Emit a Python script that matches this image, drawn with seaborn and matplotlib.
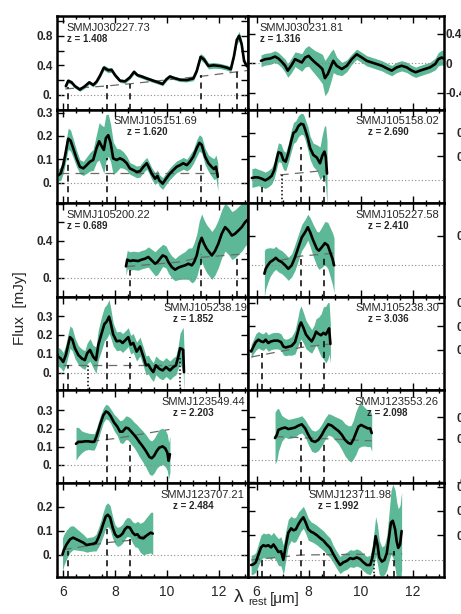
import matplotlib
matplotlib.use("Agg")
import matplotlib.pyplot as plt
import seaborn as sns
import pandas as pd
from matplotlib.ticker import MultipleLocator

sns.set_style("ticks")
plt.rcParams["font.family"] = ["Liberation Sans", "DejaVu Sans"]

# ---------------- data (rest wavelength [um], flux [mJy], 1-sigma) ----------------
names = ["SMMJ030227.73", "SMMJ030231.81", "SMMJ105151.69", "SMMJ105158.02",
         "SMMJ105200.22", "SMMJ105227.58", "SMMJ105238.19", "SMMJ105238.30",
         "SMMJ123549.44", "SMMJ123553.26", "SMMJ123707.21", "SMMJ123711.98"]
redshifts = ["1.408", "1.316", "1.620", "2.690", "0.689", "2.410",
             "1.852", "3.036", "2.203", "2.098", "2.484", "1.992"]

wl_030227 = [6.12, 6.21, 6.34, 6.47, 6.66, 6.85, 7.02, 7.17, 7.30, 7.43, 7.58, 7.75, 7.88, 8.01, 8.20,
             8.39, 8.58, 8.74, 8.87, 9.03, 9.23, 9.48, 9.67, 9.84, 9.99, 10.12, 10.25, 10.51, 10.77,
             11.02, 11.15, 11.30, 11.43, 11.60, 11.79, 12.05, 12.30, 12.46, 12.58, 12.69, 12.78,
             12.88, 12.97, 13.07]
fx_030227 = [0.116, 0.19, 0.169, 0.116, 0.071, 0.116, 0.169, 0.133, 0.178, 0.258, 0.369, 0.333, 0.338,
             0.267, 0.191, 0.182, 0.236, 0.311, 0.267, 0.249, 0.222, 0.191, 0.169, 0.147, 0.213, 0.249,
             0.231, 0.204, 0.2, 0.222, 0.324, 0.516, 0.48, 0.391, 0.4, 0.391, 0.369, 0.347, 0.524,
             0.747, 0.8, 0.68, 0.458, 0.391]
er_030227 = [0.03, 0.03, 0.025, 0.025, 0.025, 0.025, 0.025, 0.025, 0.025, 0.03, 0.035, 0.035, 0.03,
             0.03, 0.025, 0.025, 0.025, 0.03, 0.025, 0.025, 0.025, 0.025, 0.025, 0.025, 0.025, 0.025,
             0.025, 0.025, 0.025, 0.03, 0.035, 0.045, 0.045, 0.04, 0.04, 0.035, 0.035, 0.035, 0.045,
             0.06, 0.06, 0.055, 0.04, 0.04]

wl_030231 = [6.17, 6.33, 6.52, 6.71, 6.84, 6.97, 7.10, 7.20, 7.33, 7.48, 7.61, 7.74, 7.87, 8.00, 8.12,
             8.25, 8.40, 8.53, 8.63, 8.74, 8.87, 8.95, 9.08, 9.28, 9.47, 9.66, 9.85, 10.05, 10.24,
             10.43, 10.62, 10.82, 11.01, 11.20, 11.39, 11.58, 11.78, 11.97, 12.12, 12.29, 12.48,
             12.67, 12.87, 12.99, 13.12, 13.21]
fx_030231 = [0.031, 0.053, 0.062, 0.089, 0.062, 0.018, -0.036, -0.102, -0.036, 0.053, 0.031, 0.009,
             0.076, 0.098, 0.053, 0.009, -0.036, -0.08, -0.204, -0.147, -0.036, 0.031, -0.036, -0.08,
             -0.036, 0.053, 0.12, 0.076, 0.031, 0.009, -0.013, -0.036, -0.071, -0.102, -0.058, -0.036,
             -0.058, -0.102, -0.124, -0.102, -0.08, -0.058, -0.013, 0.053, 0.076, 0.062]
er_030231 = [0.08, 0.08, 0.08, 0.08, 0.08, 0.08, 0.09, 0.09, 0.1, 0.1, 0.11, 0.12, 0.13, 0.14, 0.15,
             0.16, 0.18, 0.2, 0.24, 0.24, 0.2, 0.16, 0.12, 0.09, 0.08, 0.07, 0.07, 0.07, 0.07, 0.07,
             0.07, 0.07, 0.07, 0.07, 0.07, 0.07, 0.07, 0.07, 0.07, 0.07, 0.07, 0.07, 0.08, 0.09,
             0.1, 0.1]

wl_105151 = [5.83, 5.92, 6.02, 6.12, 6.21, 6.30, 6.40, 6.53, 6.66, 6.79, 6.92, 7.05, 7.17, 7.30, 7.40,
             7.50, 7.58, 7.66, 7.75, 7.84, 7.94, 8.07, 8.20, 8.33, 8.46, 8.58, 8.71, 8.84, 8.97, 9.10,
             9.23, 9.33, 9.42, 9.55, 9.64, 9.71, 9.84, 9.97, 10.12, 10.25, 10.38, 10.51, 10.63,
             10.77, 10.89, 11.02, 11.15, 11.25, 11.34, 11.47, 11.60, 11.72, 11.81, 11.89, 11.96]
fx_105151 = [0.032, 0.039, 0.075, 0.133, 0.188, 0.18, 0.148, 0.104, 0.068, 0.061, 0.075, 0.09, 0.097,
             0.148, 0.177, 0.155, 0.14, 0.191, 0.203, 0.17, 0.104, 0.097, 0.104, 0.097, 0.083, 0.061,
             0.054, 0.046, 0.049, 0.068, 0.083, 0.061, 0.039, 0.017, 0.029, 0.01, -0.004, 0.017,
             0.039, 0.054, 0.068, 0.075, 0.083, 0.075, 0.09, 0.112, 0.148, 0.17, 0.162, 0.112, 0.083,
             0.068, 0.058, 0.068, 0.025]
er_105151 = [0.025, 0.03, 0.035, 0.04, 0.045, 0.045, 0.04, 0.035, 0.03, 0.03, 0.035, 0.04, 0.045, 0.06,
             0.08, 0.09, 0.1, 0.1, 0.09, 0.08, 0.07, 0.05, 0.04, 0.035, 0.03, 0.025, 0.025, 0.025,
             0.025, 0.025, 0.025, 0.025, 0.025, 0.025, 0.025, 0.025, 0.025, 0.025, 0.025, 0.025,
             0.025, 0.025, 0.025, 0.025, 0.03, 0.03, 0.035, 0.035, 0.035, 0.035, 0.035, 0.04, 0.045,
             0.05, 0.06]

wl_105158 = [5.82, 5.94, 6.07, 6.20, 6.33, 6.45, 6.58, 6.68, 6.78, 6.84, 6.94, 7.03, 7.12, 7.22, 7.33,
             7.42, 7.51, 7.61, 7.71, 7.80, 7.87, 7.97, 8.06, 8.18, 8.32, 8.44, 8.53, 8.61, 8.66, 8.71]
fx_105158 = [0.007, 0.01, 0.009, 0.004, -0.003, 0.004, 0.016, 0.041, 0.091, 0.117, 0.113, 0.084, 0.077,
             0.113, 0.164, 0.2, 0.207, 0.229, 0.239, 0.236, 0.214, 0.178, 0.135, 0.106, 0.094, 0.07,
             0.103, 0.12, 0.099, 0.026]
er_105158 = [0.04, 0.04, 0.035, 0.035, 0.035, 0.035, 0.035, 0.035, 0.04, 0.04, 0.04, 0.04, 0.04, 0.04,
             0.045, 0.045, 0.045, 0.045, 0.045, 0.045, 0.045, 0.05, 0.05, 0.05, 0.055, 0.07, 0.09,
             0.11, 0.13, 0.14]

wl_105200 = [8.43, 8.48, 8.58, 8.71, 8.90, 9.03, 9.16, 9.29, 9.42, 9.55, 9.64, 9.74, 9.84, 9.97, 10.06,
             10.19, 10.32, 10.44, 10.57, 10.70, 10.83, 10.96, 11.05, 11.15, 11.25, 11.34, 11.43,
             11.53, 11.63, 11.73, 11.85, 11.98, 12.11, 12.24, 12.37, 12.50, 12.62, 12.75, 12.88,
             13.01, 13.10]
fx_105200 = [0.122, 0.195, 0.18, 0.187, 0.18, 0.195, 0.205, 0.224, 0.187, 0.151, 0.169, 0.205, 0.241,
             0.224, 0.169, 0.115, 0.086, 0.108, 0.122, 0.133, 0.151, 0.133, 0.169, 0.241, 0.368,
             0.432, 0.368, 0.314, 0.278, 0.241, 0.288, 0.368, 0.476, 0.548, 0.511, 0.457, 0.476,
             0.511, 0.548, 0.602, 0.627]
er_105200 = [0.1, 0.1, 0.1, 0.1, 0.1, 0.1, 0.1, 0.11, 0.12, 0.13, 0.14, 0.13, 0.12, 0.12, 0.12, 0.12,
             0.12, 0.13, 0.14, 0.15, 0.17, 0.19, 0.21, 0.23, 0.25, 0.26, 0.26, 0.26, 0.26, 0.26, 0.26,
             0.26, 0.26, 0.26, 0.26, 0.26, 0.26, 0.26, 0.26, 0.26, 0.26]

wl_105227 = [6.30, 6.35, 6.43, 6.52, 6.65, 6.74, 6.84, 6.97, 7.10, 7.22, 7.35, 7.48, 7.61, 7.74, 7.87,
             7.97, 8.06, 8.18, 8.32, 8.40, 8.51, 8.63, 8.74, 8.83, 8.92, 8.98]
fx_105227 = [-0.031, -0.014, -0.002, 0.009, 0.017, 0.024, 0.015, 0.009, -0.002, -0.014, -0.002, 0.026,
             0.061, 0.095, 0.113, 0.13, 0.113, 0.084, 0.055, 0.049, 0.061, 0.075, 0.067, 0.044,
             0.021, -0.002]
er_105227 = [0.08, 0.07, 0.06, 0.05, 0.04, 0.04, 0.04, 0.04, 0.04, 0.04, 0.04, 0.045, 0.045, 0.045,
             0.045, 0.045, 0.05, 0.055, 0.06, 0.065, 0.07, 0.075, 0.08, 0.085, 0.09, 0.095]

wl_105238a = [5.83, 5.92, 6.02, 6.12, 6.21, 6.28, 6.37, 6.47, 6.60, 6.73, 6.85, 6.94, 7.05, 7.17, 7.28,
              7.37, 7.50, 7.60, 7.69, 7.78, 7.84, 7.94, 8.07, 8.20, 8.30, 8.43, 8.52, 8.61, 8.71,
              8.84, 8.97, 9.10, 9.20, 9.29, 9.38, 9.48, 9.58, 9.71, 9.84, 9.97, 10.12, 10.25, 10.35,
              10.44, 10.51, 10.57, 10.63, 10.66]
fx_105238a = [0.084, 0.075, 0.056, 0.093, 0.148, 0.188, 0.175, 0.129, 0.093, 0.075, 0.066, 0.102, 0.12,
              0.084, 0.066, 0.148, 0.211, 0.257, 0.271, 0.297, 0.266, 0.202, 0.166, 0.169, 0.157,
              0.175, 0.188, 0.148, 0.157, 0.111, 0.138, 0.084, 0.038, 0.042, 0.02, 0.002, 0.038,
              0.02, 0.011, 0.029, 0.011, 0.029, 0.038, 0.084, 0.129, 0.126, 0.12, 0.002]
er_105238a = [0.05, 0.05, 0.05, 0.055, 0.06, 0.06, 0.06, 0.055, 0.05, 0.05, 0.05, 0.055, 0.06, 0.06,
              0.07, 0.08, 0.09, 0.09, 0.09, 0.09, 0.08, 0.06, 0.05, 0.05, 0.05, 0.05, 0.05, 0.05,
              0.05, 0.05, 0.05, 0.05, 0.05, 0.05, 0.05, 0.05, 0.05, 0.05, 0.05, 0.05, 0.05, 0.05,
              0.05, 0.06, 0.08, 0.1, 0.12, 0.13]

wl_105238b = [5.79, 5.88, 5.97, 6.07, 6.17, 6.26, 6.35, 6.45, 6.56, 6.68, 6.82, 6.94, 7.03, 7.12, 7.22,
              7.35, 7.48, 7.58, 7.65, 7.71, 7.80, 7.90, 8.02, 8.12, 8.21, 8.29, 8.38, 8.48, 8.57,
              8.66, 8.74, 8.79, 8.84]
fx_105238b = [0.093, 0.114, 0.133, 0.143, 0.136, 0.133, 0.143, 0.129, 0.136, 0.139, 0.139, 0.133,
              0.114, 0.11, 0.113, 0.117, 0.133, 0.172, 0.201, 0.216, 0.194, 0.165, 0.148, 0.136,
              0.154, 0.177, 0.168, 0.162, 0.172, 0.165, 0.18, 0.191, 0.125]
er_105238b = [0.03, 0.03, 0.035, 0.035, 0.035, 0.035, 0.035, 0.035, 0.035, 0.035, 0.035, 0.035, 0.035,
              0.035, 0.035, 0.04, 0.05, 0.06, 0.07, 0.07, 0.065, 0.06, 0.055, 0.05, 0.05, 0.055,
              0.07, 0.09, 0.11, 0.12, 0.12, 0.11, 0.08]

wl_123549 = [6.51, 6.60, 6.73, 6.85, 6.98, 7.11, 7.21, 7.30, 7.43, 7.56, 7.66, 7.75, 7.84, 7.97, 8.10,
             8.20, 8.30, 8.43, 8.52, 8.61, 8.74, 8.84, 8.94, 9.07, 9.20, 9.33, 9.42, 9.51, 9.61, 9.71,
             9.84, 9.94, 10.02, 10.07, 10.12]
fx_123549 = [0.116, 0.127, 0.127, 0.13, 0.13, 0.127, 0.127, 0.157, 0.219, 0.273, 0.294, 0.287, 0.269,
             0.234, 0.21, 0.183, 0.183, 0.205, 0.201, 0.187, 0.166, 0.148, 0.127, 0.103, 0.076, 0.044,
             0.037, 0.05, 0.076, 0.095, 0.102, 0.091, 0.068, 0.023, 0.059]
er_123549 = [0.09, 0.08, 0.06, 0.05, 0.045, 0.045, 0.045, 0.045, 0.045, 0.04, 0.04, 0.04, 0.04, 0.045,
             0.05, 0.06, 0.065, 0.065, 0.065, 0.07, 0.07, 0.075, 0.08, 0.085, 0.09, 0.095, 0.095,
             0.095, 0.095, 0.1, 0.1, 0.1, 0.1, 0.1, 0.1]

wl_123553 = [6.71, 6.78, 6.84, 6.97, 7.10, 7.22, 7.35, 7.48, 7.61, 7.74, 7.87, 7.99, 8.12, 8.25, 8.38,
             8.51, 8.63, 8.76, 8.89, 9.02, 9.15, 9.28, 9.40, 9.53, 9.63, 9.72, 9.82, 9.92, 10.02,
             10.15, 10.28, 10.37, 10.43]
fx_123553 = [0.103, 0.118, 0.141, 0.148, 0.152, 0.145, 0.148, 0.152, 0.161, 0.167, 0.148, 0.118, 0.091,
             0.085, 0.095, 0.118, 0.145, 0.167, 0.161, 0.148, 0.136, 0.118, 0.095, 0.08, 0.076, 0.095,
             0.126, 0.156, 0.164, 0.156, 0.148, 0.148, 0.126]
er_123553 = [0.12, 0.12, 0.1, 0.06, 0.045, 0.045, 0.045, 0.045, 0.04, 0.04, 0.04, 0.045, 0.05, 0.05,
             0.05, 0.05, 0.05, 0.05, 0.05, 0.055, 0.06, 0.07, 0.075, 0.08, 0.085, 0.09, 0.1, 0.1, 0.1,
             0.09, 0.085, 0.085, 0.085]

wl_123707 = [5.99, 6.05, 6.15, 6.28, 6.40, 6.53, 6.66, 6.79, 6.92, 7.05, 7.17, 7.28, 7.37, 7.47, 7.56,
             7.65, 7.73, 7.82, 7.92, 8.01, 8.10, 8.20, 8.30, 8.39, 8.48, 8.58, 8.69, 8.78, 8.87, 8.97,
             9.10, 9.20, 9.29, 9.38, 9.46]
fx_123707 = [0.0, 0.021, 0.043, 0.064, 0.071, 0.064, 0.057, 0.05, 0.04, 0.043, 0.045, 0.05, 0.071, 0.099,
             0.13, 0.159, 0.167, 0.156, 0.113, 0.085, 0.074, 0.078, 0.088, 0.106, 0.116, 0.113, 0.092,
             0.082, 0.085, 0.071, 0.068, 0.078, 0.085, 0.092, 0.088]
er_123707 = [0.07, 0.065, 0.06, 0.055, 0.05, 0.045, 0.04, 0.035, 0.03, 0.03, 0.03, 0.035, 0.04, 0.045,
             0.05, 0.05, 0.05, 0.05, 0.045, 0.04, 0.04, 0.04, 0.04, 0.04, 0.04, 0.04, 0.045, 0.05,
             0.055, 0.06, 0.07, 0.075, 0.08, 0.085, 0.09]

wl_123711 = [5.79, 5.88, 5.97, 6.07, 6.17, 6.26, 6.35, 6.45, 6.56, 6.65, 6.74, 6.84, 6.94, 7.03, 7.12,
             7.22, 7.33, 7.42, 7.51, 7.61, 7.71, 7.80, 7.89, 7.99, 8.10, 8.18, 8.32, 8.44, 8.57, 8.70,
             8.83, 8.95, 9.08, 9.21, 9.34, 9.47, 9.60, 9.72, 9.85, 9.98, 10.11, 10.24, 10.37, 10.45,
             10.53, 10.58, 10.65, 10.72, 10.82, 10.92, 11.01, 11.10, 11.17, 11.24, 11.33, 11.39,
             11.45, 11.52, 11.58]
fx_123711 = [-0.021, -0.018, -0.01, 0.021, 0.051, 0.06, 0.056, 0.06, 0.051, 0.063, 0.049, 0.032, 0.035,
             0.0, 0.056, 0.111, 0.129, 0.121, 0.125, 0.146, 0.163, 0.174, 0.153, 0.125, 0.115, 0.111,
             0.101, 0.09, 0.079, 0.063, 0.049, 0.024, 0.0, -0.021, -0.01, -0.004, 0.007, 0.004, 0.01,
             0.004, -0.01, -0.021, -0.021, 0.007, 0.056, 0.097, 0.063, 0.01, -0.007, 0.0, 0.028,
             0.097, 0.153, 0.16, 0.125, 0.076, 0.049, 0.063, 0.118]
er_123711 = [0.04, 0.04, 0.04, 0.045, 0.05, 0.05, 0.05, 0.05, 0.05, 0.05, 0.05, 0.055, 0.06, 0.06, 0.06,
             0.055, 0.05, 0.05, 0.05, 0.05, 0.045, 0.045, 0.045, 0.045, 0.04, 0.04, 0.04, 0.04, 0.04,
             0.04, 0.04, 0.035, 0.035, 0.035, 0.035, 0.035, 0.035, 0.035, 0.035, 0.035, 0.035, 0.035,
             0.04, 0.05, 0.07, 0.08, 0.08, 0.07, 0.06, 0.06, 0.07, 0.1, 0.13, 0.15, 0.16, 0.16, 0.16,
             0.16, 0.16]

# continuum fits (wavelength, flux)
cont_wl = [[6.1, 7.7, 8.6, 11.3, 13.1], [], [5.9, 11.96], [6.9, 8.7], [8.45, 10.5, 11.3, 13.1],
           [6.9, 7.7, 8.98], [6.0, 10.6], [5.8, 7.7, 8.84], [6.5, 8.0, 10.1], [6.7, 8.6, 10.43],
           [6.0, 7.7, 8.6, 9.46], [5.8, 7.7, 11.6]]
cont_fx = [[0.08, 0.12, 0.15, 0.25, 0.33], [], [0.04, 0.04], [0.02, 0.04], [0.12, 0.17, 0.22, 0.26],
           [0.015, 0.03, 0.04], [0.042, 0.042], [0.07, 0.11, 0.125], [0.12, 0.145, 0.195],
           [0.11, 0.1, 0.09], [0.02, 0.05, 0.06, 0.09], [0.0, 0.02, 0.025]]

# PAH feature markers (wavelength, height of marker) and atomic line markers
pah_wl = [[6.2, 7.7, 8.6, 11.3, 12.7], [], [6.2, 7.7, 11.3], [6.2, 7.7, 8.6], [8.6, 11.3, 12.7],
          [7.7, 8.6], [6.2, 7.7, 8.6], [6.2, 7.7, 8.6], [7.7, 8.6], [7.7, 8.6], [6.2, 7.7, 8.6],
          [6.2, 7.7, 8.6, 11.3]]
pah_top = [[0.1, 0.13, 0.15, 0.27, 0.35], [], [0.104, 0.104, 0.09], [-0.03, 0.138, 0.028],
           [0.086, 0.26, 0.24], [0.02, 0.032], [0.038, 0.175, 0.084], [0.086, 0.133, 0.151],
           [0.174, 0.127], [0.103, 0.091], [0.014, 0.106, 0.064], [0.007, 0.076, 0.028, 0.038]]
ion_wl = [[], [], [], [6.99], [], [], [6.99, 10.51], [], [], [], [], [10.51]]
ion_top = [[], [], [], [0.028], [], [], [0.038, 0.075], [], [], [], [], [0.0]]

# axis ranges and ticks
ylims = [(-0.2, 1.07), (-0.63, 0.64), (-0.087, 0.313), (-0.1, 0.3), (-0.205, 0.81), (-0.11, 0.214),
         (-0.093, 0.404), (-0.07, 0.326), (-0.102, 0.412), (-0.109, 0.327), (-0.094, 0.298),
         (-0.07, 0.3125)]
yticks = [[0, 0.2, 0.4, 0.6, 0.8, 1.0], [-0.4, 0, 0.4], [0, 0.1, 0.2, 0.3], [0.1, 0.2],
          [0, 0.2, 0.4, 0.6, 0.8], [0.1], [0, 0.1, 0.2, 0.3], [0.1, 0.2, 0.3], [0, 0.1, 0.2, 0.3],
          [-0.1, 0.1, 0.2], [0, 0.1, 0.2], [0.1, 0.2, 0.3]]
ylabels = [["0.", "", "0.4", "", "0.8", ""], ["-0.4", "0", "0.4"], ["0.", "0.1", "0.2", "0.3"],
           ["0.1", "0.2"], ["0.", "", "0.4", "", ""], ["0.1"], ["0.", "0.1", "0.2", "0.3"],
           ["0.1", "0.2", "0.3"], ["0.", "0.1", "0.2", "0.3"], ["-0.1", "0.1", "0.2"],
           ["0.", "0.1", "0.2"], ["0.1", "0.2", "0.3"]]

spectra = [(wl_030227, fx_030227, er_030227), (wl_030231, fx_030231, er_030231),
           (wl_105151, fx_105151, er_105151), (wl_105158, fx_105158, er_105158),
           (wl_105200, fx_105200, er_105200), (wl_105227, fx_105227, er_105227),
           (wl_105238a, fx_105238a, er_105238a), (wl_105238b, fx_105238b, er_105238b),
           (wl_123549, fx_123549, er_123549), (wl_123553, fx_123553, er_123553),
           (wl_123707, fx_123707, er_123707), (wl_123711, fx_123711, er_123711)]

# label anchors (axes fraction): name x + alignment, redshift x
name_pos = [(0.052, "left"), (0.061, "left"), (0.733, "right"), (0.974, "right"), (0.052, "left"),
            (0.974, "right"), (0.995, "right"), (0.974, "right"), (0.984, "right"), (0.974, "right"),
            (0.979, "right"), (0.735, "right")]
z_x = [0.052, 0.061, 0.366, 0.612, 0.052, 0.612, 0.609, 0.612, 0.606, 0.606, 0.609, 0.356]
right_pad = [1, 1, 1, 9, 1, 9, 1, 9, 1, 9, 1, 9]

BAND = "#5cb896"

fig = plt.figure(figsize=(4.61, 6.14), dpi=100)
gs = fig.add_gridspec(6, 2, left=57 / 461, right=444 / 461, top=1 - 16 / 614, bottom=1 - 577 / 614,
                      hspace=0, wspace=0, width_ratios=[191, 196])

for i in range(12):
    r, c = divmod(i, 2)
    ax = fig.add_subplot(gs[r, c])
    wl, fx, er = spectra[i]
    df = pd.DataFrame({"wl": wl, "fx": fx, "er": er})
    ax.fill_between(df["wl"], df["fx"] - df["er"], df["fx"] + df["er"], color=BAND, lw=0, zorder=1)
    ax.axhline(0, color="#8a8a8a", lw=0.8, ls=(0, (1, 2)), zorder=2)
    if cont_wl[i]:
        ax.plot(cont_wl[i], cont_fx[i], color="#6a6a6a", lw=0.9, ls=(0, (7, 5)), zorder=3)
    ymin = ylims[i][0]
    for w, t in zip(pah_wl[i], pah_top[i]):
        ax.plot([w, w], [ymin, t], color="black", lw=1.1, ls=(0, (4, 3)), zorder=3)
    for w, t in zip(ion_wl[i], ion_top[i]):
        ax.plot([w, w], [ymin, t], color="black", lw=1.1, ls=(0, (1, 1.5)), zorder=3)
    sns.lineplot(data=df, x="wl", y="fx", ax=ax, color="black", lw=1.9, sort=False,
                 estimator=None, zorder=4)

    ax.set_xlim(5.78, 13.12) if c == 0 else ax.set_xlim(5.67, 13.21)
    ax.set_ylim(*ylims[i])
    ax.set_xlabel("")
    ax.set_ylabel("")
    ax.xaxis.set_major_locator(MultipleLocator(2))
    ax.xaxis.set_minor_locator(MultipleLocator(0.5))
    ax.set_yticks(yticks[i])
    ax.set_yticklabels(ylabels[i])
    ax.tick_params(which="both", direction="in", top=True, bottom=True, left=True, right=True,
                   width=1.0, color="black")
    ax.tick_params(which="major", length=5)
    ax.tick_params(which="minor", length=2.5)
    if c == 0:
        ax.tick_params(axis="y", labelleft=True, labelright=False, pad=3, labelsize=8.5)
    else:
        ax.tick_params(axis="y", labelleft=False, labelright=True, pad=right_pad[i], labelsize=8.5)
    for lab in ax.get_yticklabels():
        lab.set_fontweight("bold")
    if r == 5:
        ax.tick_params(axis="x", labelbottom=True, labelsize=10, pad=6)
        ax.set_xticks([6, 8, 10, 12])
        ax.set_xticklabels(["6", "8", "10", "12"])
    else:
        ax.tick_params(axis="x", labelbottom=False)
    for s in ax.spines.values():
        s.set_linewidth(1.8)
        s.set_color("black")

    nx, nha = name_pos[i]
    ax.text(nx, 0.872, names[i], transform=ax.transAxes, fontsize=8, va="center", ha=nha)
    ax.text(z_x[i], 0.757, "z = " + redshifts[i], transform=ax.transAxes, fontsize=7,
            fontweight="bold", va="center", ha="left")

fig.text(20 / 461, 1 - 308 / 614, "Flux  [mJy]", rotation=90, fontsize=11, va="center", ha="center")
fig.text(234 / 461, 1 - 597 / 614, "λ", fontsize=14, va="center", ha="left")
fig.text(248 / 461, 1 - 602 / 614, "rest", fontsize=8, va="center", ha="left")
fig.text(270 / 461, 1 - 599 / 614, "[μm]", fontsize=11, va="center", ha="left")

fig.savefig("out.png", dpi=100)
